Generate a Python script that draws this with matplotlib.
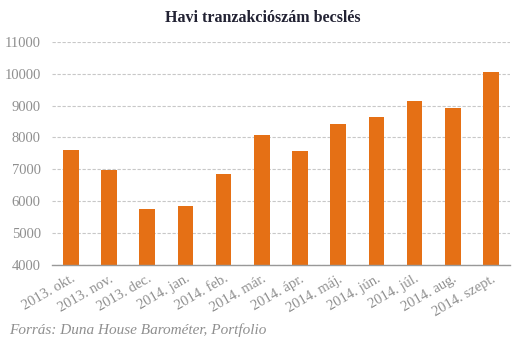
import matplotlib.pyplot as plt
import numpy as np

# Monthly transaction estimates
months = ['2013. okt.', '2013. nov.', '2013. dec.', '2014. jan.', '2014. feb.',
          '2014. már.', '2014. ápr.', '2014. máj.', '2014. jún.', '2014. júl.',
          '2014. aug.', '2014. szept.']
transactions = [7620, 6980, 5750, 5840, 6870, 8080, 7580, 8420, 8640, 9130, 8920, 10040]
yticks = [4000, 5000, 6000, 7000, 8000, 9000, 10000, 11000]

plt.rcParams['font.family'] = ['Liberation Serif', 'DejaVu Serif']

fig = plt.figure(figsize=(5.29, 3.41), dpi=100)
ax = fig.add_axes([0.098, 0.222, 0.866, 0.656])

x = np.arange(len(months))
ax.bar(x, transactions, width=0.41, color='#e57015', zorder=3)

ax.set_xlim(-0.5, len(months) - 0.5)
ax.set_ylim(4000, 11000)
ax.set_yticks(yticks)
ax.set_yticklabels([str(v) for v in yticks], color='#8f8f8f', fontsize=10.5)
ax.set_xticks(x)
ax.set_xticklabels(months, rotation=30, ha='right', rotation_mode='anchor',
                   color='#8f8f8f', fontsize=10.5)
ax.tick_params(length=0)
ax.tick_params(axis='y', pad=8)
ax.tick_params(axis='x', pad=5)

ax.grid(axis='y', color='#c8c8c8', linestyle=(0, (3, 1.5)), linewidth=0.8, zorder=0)
for s in ['top', 'right', 'left']:
    ax.spines[s].set_visible(False)
ax.spines['bottom'].set_color('#999999')
ax.spines['bottom'].set_linewidth(1.0)
ax.spines['bottom'].set_zorder(4)

fig.text(0.497, 0.948, 'Havi tranzakciószám becslés', ha='center', va='center',
         fontsize=11.5, fontweight='bold', color='#222233')
fig.text(0.018, 0.032, 'Forrás: Duna House Barométer, Portfolio', ha='left', va='center',
         fontsize=11, style='italic', color='#8f8f8f')

fig.savefig('out.png', dpi=100)
